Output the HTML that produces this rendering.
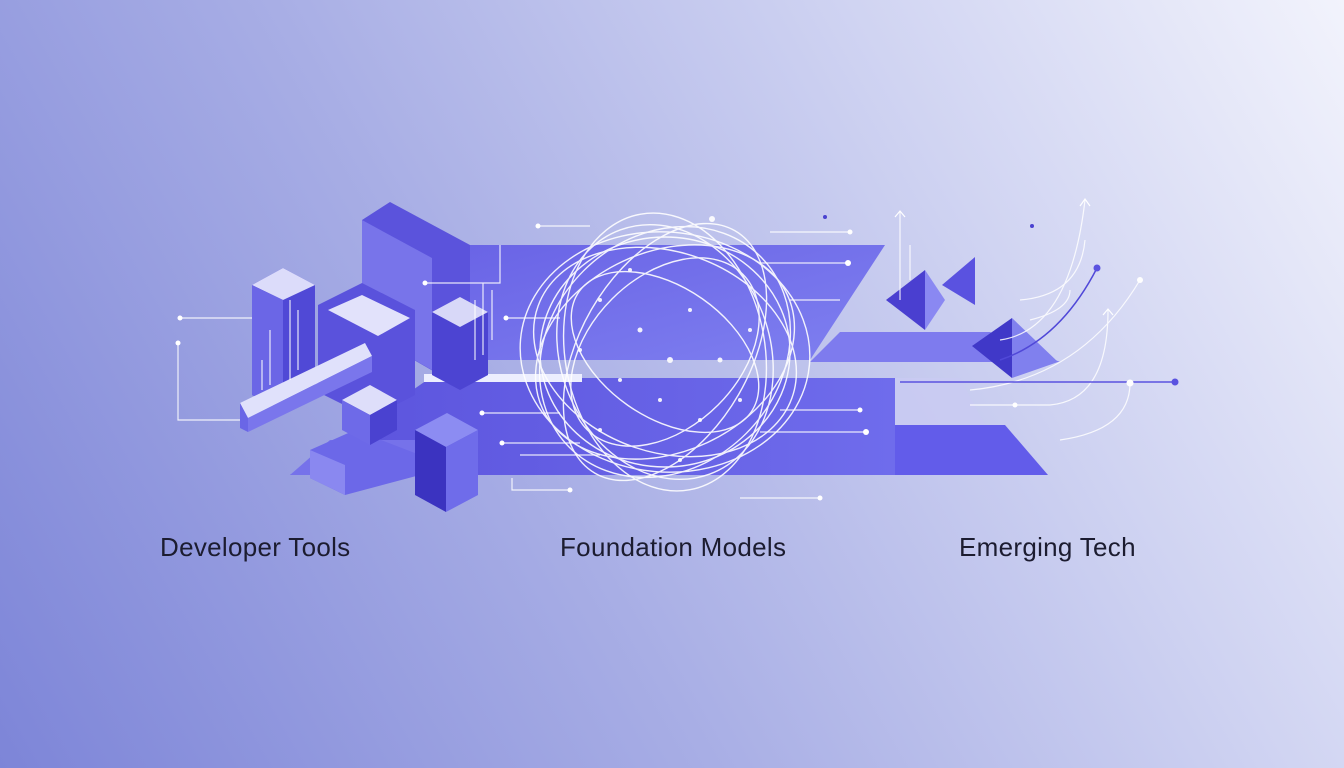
<!DOCTYPE html>
<html><head><meta charset="utf-8"><style>
html,body{margin:0;padding:0;width:1344px;height:768px;overflow:hidden}
body{background:linear-gradient(240deg,#f2f3fc 0%,#cdd1f1 30%,#a8aee5 60%,#7d85d8 100%);font-family:"Liberation Sans",sans-serif}
.t{position:absolute;top:532px;font-size:26px;color:#1c1c30;letter-spacing:0.3px}
</style></head><body>
<svg width="1344" height="768" style="position:absolute;left:0;top:0">
<defs>
<linearGradient id="g1" x1="0" y1="0" x2="1" y2="0"><stop offset="0" stop-color="#5a52dc"/><stop offset="1" stop-color="#6f6cec"/></linearGradient>
<linearGradient id="g2" x1="0" y1="0" x2="1" y2="1"><stop offset="0" stop-color="#6a64e6"/><stop offset="1" stop-color="#7f80f0"/></linearGradient>
</defs>
<polygon points="470,245 885,245 810,360 470,360" fill="url(#g2)"/>
<polygon points="430,378 895,378 895,475 290,475" fill="url(#g1)"/>
<polygon points="895,425 1005,425 1048,475 895,475" fill="#625cea"/>
<polygon points="895,378 960,378 985,425 895,425" fill="#c9cbf3" opacity="0.8"/>
<polygon points="810,362 1060,362 990,332 840,332" fill="#7e7bee"/>
<rect x="424" y="374" width="158" height="8" fill="#eceefe"/>
<polygon points="886,300 925,270 925,330" fill="#4a3fd0"/>
<polygon points="925,270 925,330 945,300" fill="#8a88f2"/>
<polygon points="942,285 975,257 975,305" fill="#5a52e0"/>
<polygon points="972,346 1012,318 1012,378" fill="#4038c8"/>
<polygon points="1012,318 1012,378 1058,362" fill="#8080ee"/>
<polygon points="362,220 390,202 470,245 470,360 440,375 362,330" fill="#5b53dc"/>
<polygon points="362,220 432,258 432,370 362,330" fill="#7874ea"/>
<polygon points="252,285 283,268 315,285 315,395 283,410 252,395" fill="#5049d6"/>
<polygon points="252,285 283,268 315,285 283,300" fill="#dcdcfa"/>
<polygon points="252,285 283,300 283,410 252,395" fill="#6b66e6"/>
<polygon points="318,305 362,283 415,310 415,395 370,418 318,392" fill="#5a52dc"/>
<polygon points="328,310 362,295 410,318 378,336" fill="#e2e2fb"/>
<polygon points="432,312 460,297 488,312 488,375 460,390 432,375" fill="#4c44d2"/>
<polygon points="432,312 460,297 488,312 460,327" fill="#d8d8f8"/>
<polygon points="240,403 365,343 372,356 248,418" fill="#e0e1fb"/>
<polygon points="240,403 248,418 248,432 240,428" fill="#6a66e6"/>
<polygon points="248,418 372,356 372,372 248,432" fill="#7a76ec"/>
<polygon points="290,475 330,440 420,440 420,475" fill="#7672ea"/>
<polygon points="310,450 355,430 420,455 420,475 345,495 310,478" fill="#6c68e8"/>
<polygon points="310,450 345,465 345,495 310,478" fill="#8a88f0"/>
<polygon points="342,400 370,385 397,400 370,415" fill="#dedefa"/>
<polygon points="342,400 370,415 370,445 342,430" fill="#6e6ae8"/>
<polygon points="370,415 397,400 397,430 370,445" fill="#4a42d0"/>
<polygon points="415,430 447,413 478,430 446,447" fill="#8c8cf2"/>
<polygon points="415,430 446,447 446,512 415,495" fill="#3b33c0"/>
<polygon points="446,447 478,430 478,495 446,512" fill="#6f6cea"/>
<g stroke="#ffffff" stroke-width="1.2" fill="none" opacity="0.85">
<path d="M180,318 H252"/><path d="M178,343 V420 H240"/>
<path d="M270,385 V330"/><path d="M262,390 V360"/><path d="M290,380 V300"/><path d="M298,370 V310"/>
<path d="M425,283 H500 V245"/><path d="M483,283 V355"/><path d="M492,290 V340"/><path d="M475,300 V360"/>
<path d="M506,318 H560"/><path d="M538,226 H590"/><path d="M482,413 H560"/><path d="M502,443 H580"/><path d="M520,455 H600"/>
<path d="M512,478 V490 H570"/><path d="M740,498 H820"/><path d="M760,432 H866"/><path d="M780,410 H860"/>
<path d="M760,263 H848"/><path d="M770,232 H850"/><path d="M790,300 H840"/>
<path d="M900,212 V300"/><path d="M910,245 V280"/>
<path d="M970,390 Q1080,380 1140,280"/><path d="M1000,340 Q1070,330 1085,200"/>
<path d="M1060,440 Q1130,430 1130,383"/><path d="M970,405 H1050 Q1108,400 1108,310"/>
<path d="M1020,300 Q1080,295 1085,240"/><path d="M1030,320 Q1070,310 1070,290"/>
</g>
<path d="M900,382 H1175" stroke="#5a52e0" stroke-width="1.5"/>
<path d="M1000,360 Q1060,340 1097,268" stroke="#5048d8" stroke-width="1.5" fill="none"/>
<g fill="#ffffff">
<circle cx="180" cy="318" r="2.5"/><circle cx="178" cy="343" r="2.5"/><circle cx="425" cy="283" r="2.5"/><circle cx="506" cy="318" r="2.5"/>
<circle cx="538" cy="226" r="2.5"/><circle cx="482" cy="413" r="2.5"/><circle cx="502" cy="443" r="2.5"/><circle cx="570" cy="490" r="2.5"/>
<circle cx="820" cy="498" r="2.5"/><circle cx="866" cy="432" r="3"/><circle cx="860" cy="410" r="2.5"/><circle cx="848" cy="263" r="3"/>
<circle cx="850" cy="232" r="2.5"/><circle cx="1140" cy="280" r="3"/><circle cx="1130" cy="383" r="3.5"/><circle cx="1015" cy="405" r="2.5"/>
</g>
<circle cx="1175" cy="382" r="3.5" fill="#5a52e0"/><circle cx="1097" cy="268" r="3.5" fill="#5a52e0"/><circle cx="825" cy="217" r="2" fill="#4a42d0"/><circle cx="1032" cy="226" r="2" fill="#4a42d0"/>
<g stroke="#fff" stroke-width="1.2" fill="none"><path d="M895,217 L900,211 L905,217"/><path d="M1080,206 L1085,199 L1090,206"/><path d="M1103,315 L1108,309 L1113,315"/></g>
<g stroke="#ffffff" stroke-width="1.4" fill="none" opacity="0.9" transform="translate(665,352)">
<ellipse rx="135" ry="100" transform="rotate(20)"/>
<ellipse rx="135" ry="100" transform="rotate(-25)"/>
<ellipse rx="130" ry="105" transform="rotate(70)"/>
<ellipse rx="140" ry="85" transform="rotate(-60)"/>
<ellipse rx="125" ry="115"/>
<ellipse rx="115" ry="135" transform="rotate(45)"/>
<ellipse rx="100" ry="140" transform="rotate(-10)"/>
<ellipse rx="105" ry="65" transform="rotate(35)"/>
<ellipse rx="110" ry="75" transform="rotate(-45)"/>
<ellipse rx="145" ry="120" transform="rotate(5)"/>
</g>
<g fill="#ffffff" opacity="0.9">
<circle cx="600" cy="300" r="2"/><circle cx="640" cy="330" r="2.5"/><circle cx="690" cy="310" r="2"/><circle cx="720" cy="360" r="2.5"/>
<circle cx="660" cy="400" r="2"/><circle cx="620" cy="380" r="2"/><circle cx="700" cy="420" r="2"/><circle cx="580" cy="350" r="2"/>
<circle cx="750" cy="330" r="2"/><circle cx="712" cy="219" r="3"/><circle cx="630" cy="270" r="2"/><circle cx="680" cy="460" r="2"/>
<circle cx="740" cy="400" r="2"/><circle cx="600" cy="430" r="2"/><circle cx="670" cy="360" r="3"/>
</g>
</svg>
<div class="t" style="left:160px">Developer Tools</div>
<div class="t" style="left:560px">Foundation Models</div>
<div class="t" style="left:959px">Emerging Tech</div>
</body></html>
